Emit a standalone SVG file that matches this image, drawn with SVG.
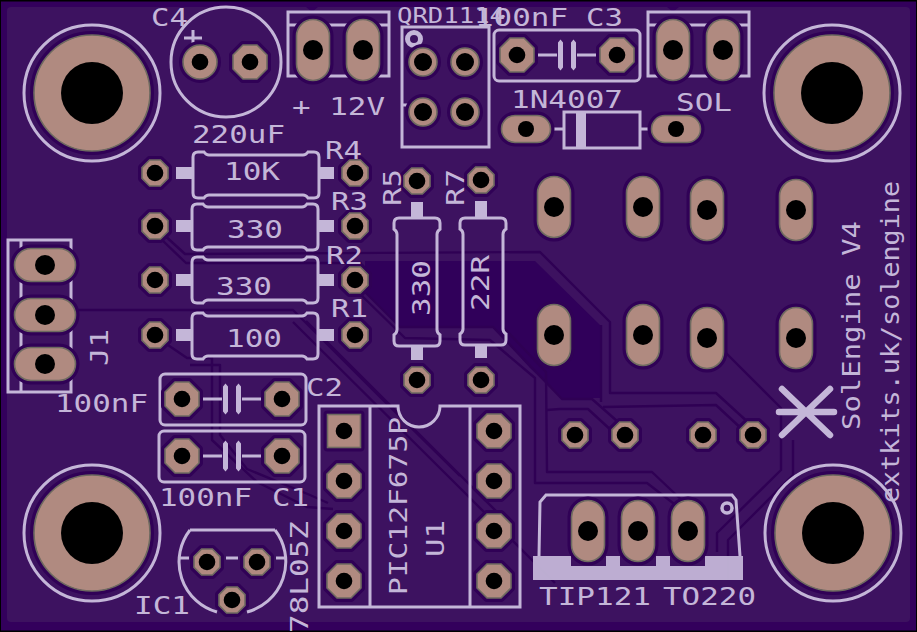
<svg xmlns="http://www.w3.org/2000/svg" xmlns:xlink="http://www.w3.org/1999/xlink" width="917" height="632" viewBox="0 0 917 632">
<style>
.s{fill:none;stroke:#c4b6d8;stroke-width:3}
.f{fill:#c4b6d8;stroke:none}
.tr{fill:none;stroke:#2f0054;stroke-width:2.4;stroke-linejoin:round}
.h{stroke:#300156;stroke-width:8;stroke-linejoin:round}
.p{fill:#b08a80;stroke:#6e6a60;stroke-width:1.6}
.o{fill:#000}
text{font-family:"DejaVu Sans Mono","Liberation Mono",monospace;font-size:25px;fill:#c4b6d8}
</style>
<defs>
<g id="oS"><polygon class="h" points="-5.4,-13 5.4,-13 13,-5.4 13,5.4 5.4,13 -5.4,13 -13,5.4 -13,-5.4"/><polygon class="p" points="-5.4,-13 5.4,-13 13,-5.4 13,5.4 5.4,13 -5.4,13 -13,5.4 -13,-5.4"/><circle class="o" r="8.3"/></g>
<g id="oL"><polygon class="h" points="-7,-17 7,-17 17,-7 17,7 7,17 -7,17 -17,7 -17,-7"/><polygon class="p" points="-7,-17 7,-17 17,-7 17,7 7,17 -7,17 -17,7 -17,-7"/><circle class="o" r="8.3"/></g>
<g id="rP"><circle class="h" r="14"/><circle class="p" r="14"/><circle class="o" r="9"/></g>
<g id="rC"><circle class="h" r="17"/><circle class="p" r="17"/><circle class="o" r="8.3"/></g>
<g id="oV"><rect class="h" x="-16.500" y="-30.500" width="33" height="61" rx="16.500"/><rect class="p" x="-16.500" y="-30.500" width="33" height="61" rx="16.500"/><circle class="o" r="10"/></g>
<g id="oH"><rect class="h" x="-30.500" y="-16.500" width="61" height="33" rx="16.500"/><rect class="p" x="-30.500" y="-16.500" width="61" height="33" rx="16.500"/><circle class="o" r="10"/></g>
<g id="oD"><rect class="h" x="-24.500" y="-13.500" width="49" height="27" rx="13.500"/><rect class="p" x="-24.500" y="-13.500" width="49" height="27" rx="13.500"/><circle class="o" r="8"/></g>
<g id="mt"><circle class="h" r="58"/><circle class="p" r="58"/><circle class="o" r="31"/><circle class="s" r="68"/></g>
<path id="res" class="s" d="M5 0H11Q13 3 16 3H110Q113 3 115 0H121Q126 0 126 5V41Q126 46 121 46H115Q113 43 110 43H16Q13 43 11 46H5Q0 46 0 41V5Q0 0 5 0Z"/>
<g id="cap"><path class="s" d="M-30 0H-10M10 0H31"/><path class="f" d="M-9 -12.500L-6.500 -15.500L-4 -12.500V12.500L-6.500 15.500L-9 12.500ZM4 -12.500L6.500 -15.500L9 -12.500V12.500L6.500 15.500L4 12.500Z"/></g>
</defs>

<g id="board">
<rect width="917" height="632" fill="#000"/>
<rect x="1" y="1.500" width="915" height="629" fill="#33005c"/>
<rect x="7" y="7" width="903" height="615" rx="4" fill="#3d1260"/>
<path d="M306 7L312 12L318 7ZM667 7L673 12L679 7Z" fill="#33005c"/>
<path d="M365 261H535L600 325V398H562L530 368L493 327H400L365 291Z" fill="#30005a"/>
</g>

<g id="connectors">
<polyline class="tr" points="162,233 185,254 540,252 610,322 610,393 716,393 762,435"/>
<polyline class="tr" points="160,238 186,263 362,263"/>
<polyline class="tr" points="601,325 601,402"/>
<polyline class="tr" points="603,407 716,405 745,432"/>
<polyline class="tr" points="723,350 781,408 781,470 717,533 717,552"/>
<polyline class="tr" points="793,440 793,475 728,540 728,580"/>
<polyline class="tr" points="360,287 400,327 493,327 562,399 592,399 617,421"/>
<polyline class="tr" points="358,292 405,338 490,340 535,378 535,483 647,483 682,510"/>
<polyline class="tr" points="503,327 546,372 547,472 652,472 688,506"/>
<polyline class="tr" points="547,410 560,409 588,409 613,432"/>
<polyline class="tr" points="60,310 293,310 380,397 460,476"/>
<polyline class="tr" points="293,322 460,488 555,583"/>
<polyline class="tr" points="306,321 470,485 500,515"/>
<polyline class="tr" points="165,343 187,358 212,358 212,440 257,482 307,507 333,509"/>
<polyline class="tr" points="190,365 220,365 220,435 247,469 310,495 328,503"/>
</g>

<g id="mount-holes">
<use href="#mt" x="92" y="93"/><use href="#mt" x="832" y="93"/><use href="#mt" x="92" y="533"/><use href="#mt" x="833" y="533"/>
</g>

<g id="C4">
<circle class="s" cx="226" cy="62" r="55"/><path class="s" d="M184 38H202M193 30V46"/>
<use href="#rC" x="200" y="62"/><use href="#oL" x="250" y="62"/>
<text x="151" y="26" textLength="37" lengthAdjust="spacingAndGlyphs">C4</text><text x="192" y="143" textLength="93" lengthAdjust="spacingAndGlyphs">220uF</text>
</g>

<g id="PWR">
<rect class="s" x="288" y="12" width="101" height="64"/><path class="s" d="M288 25H389"/>
<use href="#oV" x="313" y="50"/><use href="#oV" x="363" y="50"/>
<text x="292" y="115" textLength="93" lengthAdjust="spacingAndGlyphs">+ 12V</text>
</g>

<g id="SOLT">
<rect class="s" x="648" y="12" width="101" height="64"/><path class="s" d="M648 25H749"/>
<use href="#oV" x="673" y="50"/><use href="#oV" x="723" y="50"/>
<text x="676" y="111" textLength="56" lengthAdjust="spacingAndGlyphs">SOL</text>
</g>

<g id="QRD">
<rect class="s" x="402" y="27" width="87" height="120"/><circle class="s" cx="414" cy="39" r="6.500" style="stroke-width:5"/><path class="s" d="M402 105H411"/>
<use href="#rP" x="423" y="62"/><use href="#rP" x="465" y="62"/><use href="#rP" x="423" y="112"/><use href="#rP" x="465" y="112"/>
<text x="397" y="23" style="font-size:22px" textLength="108" lengthAdjust="spacingAndGlyphs">QRD1114</text>
</g>

<g id="C3">
<rect class="s" x="494" y="30" width="146" height="51" rx="5"/><use href="#cap" x="567" y="55"/>
<use href="#oL" x="517" y="55"/><use href="#oL" x="617" y="55"/>
<text x="475" y="26" textLength="93" lengthAdjust="spacingAndGlyphs">100nF</text><text x="586" y="26" textLength="37" lengthAdjust="spacingAndGlyphs">C3</text>
</g>

<g id="D1">
<rect class="s" x="564" y="112" width="76" height="36"/><rect class="f" x="576" y="112" width="10" height="36"/><path class="s" d="M550 129H564M640 129H654"/>
<use href="#oD" x="526" y="129"/><use href="#oD" x="676" y="129"/>
<text x="511" y="108" textLength="112" lengthAdjust="spacingAndGlyphs">1N4007</text>
</g>

<g id="R4">
<use href="#res" x="193" y="152"/><rect class="f" x="176" y="167" width="17" height="12"/><rect class="f" x="319" y="167" width="15" height="12"/>
<use href="#oS" x="155" y="173"/><use href="#oS" x="355" y="173"/>
<text x="224" y="180" textLength="56" lengthAdjust="spacingAndGlyphs">10K</text><text x="325" y="159" textLength="37" lengthAdjust="spacingAndGlyphs">R4</text>
</g>
<g id="R3">
<use href="#res" x="192" y="204"/><rect class="f" x="176" y="220" width="16" height="12"/><rect class="f" x="318" y="220" width="16" height="12"/>
<use href="#oS" x="155" y="226"/><use href="#oS" x="355" y="226"/>
<text x="227" y="238" textLength="56" lengthAdjust="spacingAndGlyphs">330</text><text x="331" y="210" textLength="37" lengthAdjust="spacingAndGlyphs">R3</text>
</g>
<g id="R2">
<use href="#res" x="192" y="257"/><rect class="f" x="176" y="274" width="16" height="12"/><rect class="f" x="318" y="274" width="16" height="12"/>
<use href="#oS" x="155" y="280"/><use href="#oS" x="355" y="280"/>
<text x="216" y="295" textLength="56" lengthAdjust="spacingAndGlyphs">330</text><text x="326" y="264" textLength="37" lengthAdjust="spacingAndGlyphs">R2</text>
</g>
<g id="R1">
<use href="#res" x="192" y="313"/><rect class="f" x="176" y="329" width="16" height="12"/><rect class="f" x="318" y="329" width="16" height="12"/>
<use href="#oS" x="155" y="335"/><use href="#oS" x="355" y="335"/>
<text x="226" y="347" textLength="56" lengthAdjust="spacingAndGlyphs">100</text><text x="331" y="317" textLength="37" lengthAdjust="spacingAndGlyphs">R1</text>
</g>

<g id="R5">
<use href="#res" transform="translate(440 218) rotate(90) scale(1.016 1)"/><rect class="f" x="411" y="202" width="12" height="16"/><rect class="f" x="411" y="346" width="12" height="14"/>
<use href="#oS" x="417" y="181"/><use href="#oS" x="417" y="380"/>
<text transform="translate(401 206) rotate(-90)" textLength="37" lengthAdjust="spacingAndGlyphs">R5</text>
<text transform="translate(430 316) rotate(-90)" textLength="56" lengthAdjust="spacingAndGlyphs">330</text>
</g>
<g id="R7">
<use href="#res" transform="translate(506 218) rotate(90) scale(1.008 1)"/><rect class="f" x="475" y="201" width="12" height="17"/><rect class="f" x="475" y="345" width="12" height="13"/>
<use href="#oS" x="481" y="180"/><use href="#oS" x="481" y="380"/>
<text transform="translate(464 206) rotate(-90)" textLength="37" lengthAdjust="spacingAndGlyphs">R7</text>
<text transform="translate(489 311) rotate(-90)" textLength="56" lengthAdjust="spacingAndGlyphs">22R</text>
</g>

<g id="J1">
<rect class="s" x="8" y="240" width="63" height="152"/><path class="s" d="M21 240V392"/>
<use href="#oH" x="45" y="265"/><use href="#oH" x="45" y="315"/><use href="#oH" x="45" y="364"/>
<text transform="translate(108 366) rotate(-90)" textLength="37" lengthAdjust="spacingAndGlyphs">J1</text>
</g>

<g id="C2">
<rect class="s" x="160" y="374" width="146" height="51" rx="5"/><use href="#cap" x="232" y="399"/>
<use href="#oL" x="182" y="399"/><use href="#oL" x="282" y="399"/>
<text x="55" y="412" textLength="93" lengthAdjust="spacingAndGlyphs">100nF</text><text x="306" y="396" textLength="37" lengthAdjust="spacingAndGlyphs">C2</text>
</g>
<g id="C1">
<rect class="s" x="159" y="431" width="146" height="51" rx="5"/><use href="#cap" x="232" y="456"/>
<use href="#oL" x="182" y="456"/><use href="#oL" x="282" y="456"/>
<text x="159" y="506" textLength="93" lengthAdjust="spacingAndGlyphs">100nF</text><text x="272" y="506" textLength="37" lengthAdjust="spacingAndGlyphs">C1</text>
</g>

<g id="IC1">
<path class="s" d="M190 530H275M190 530A52 52 0 0 0 217 612M275 530A52 52 0 0 1 247 612M179 558H189M226 558H238M276 558H286"/>
<use href="#oS" x="207" y="562"/><use href="#oS" x="257" y="562"/><use href="#oS" x="232" y="600"/>
<text x="134" y="614" textLength="56" lengthAdjust="spacingAndGlyphs">IC1</text>
<text transform="translate(308 633) rotate(-90)" textLength="112" lengthAdjust="spacingAndGlyphs">78L05Z</text>
</g>

<g id="U1">
<path class="s" d="M319 406H398A21 21 0 0 0 440 406H520V607H319ZM370 406V607M470 406V607"/>
<rect class="h" x="327.500" y="414.500" width="33" height="33" fill="none"/>
<rect class="p" x="327.500" y="414.500" width="33" height="33"/><circle class="o" cx="344" cy="431" r="8.300"/>
<use href="#oL" x="344" y="481"/><use href="#oL" x="344" y="531"/><use href="#oL" x="344" y="581"/>
<use href="#oL" x="494" y="431"/><use href="#oL" x="494" y="481"/><use href="#oL" x="494" y="531"/><use href="#oL" x="494" y="581"/>
<text transform="translate(407 595) rotate(-90)" textLength="178" lengthAdjust="spacingAndGlyphs">PIC12F675P</text>
<text transform="translate(444 557) rotate(-90)" textLength="37" lengthAdjust="spacingAndGlyphs">U1</text>
</g>

<g id="TR-pads">
<use href="#oV" x="554" y="207"/><use href="#oV" x="643" y="207"/><use href="#oV" x="707" y="210"/><use href="#oV" x="796" y="210"/>
<use href="#oV" x="554" y="335"/><use href="#oV" x="643" y="335"/><use href="#oV" x="707" y="338"/><use href="#oV" x="796" y="338"/>
<use href="#oS" x="575" y="435"/><use href="#oS" x="625" y="435"/><use href="#oS" x="703" y="435"/><use href="#oS" x="753" y="435"/>
</g>

<g id="T1">
<path class="s" d="M539 556L540 502L546 495H732L736 500L740 556"/>
<polygon class="f" opacity="0.95" points="533,556 571,556 571,566 606,566 606,556 620,556 620,566 656,566 656,556 670,556 670,566 705,566 705,556 743,556 743,580 533,580"/>
<circle class="s" cx="727" cy="508" r="5" style="stroke-width:3.500"/>
<use href="#oV" x="588" y="531"/><use href="#oV" x="638" y="531"/><use href="#oV" x="688" y="531"/>
<text x="539" y="605" textLength="112" lengthAdjust="spacingAndGlyphs">TIP121</text><text x="663" y="605" textLength="93" lengthAdjust="spacingAndGlyphs">TO220</text>
</g>

<g id="logo">
<path d="M779 412H834M782 389L830 435M782 435L830 389" fill="none" stroke="#c4b6d8" stroke-width="6.500" stroke-linecap="round"/>
<text transform="translate(860 430) rotate(-90)" textLength="209" lengthAdjust="spacingAndGlyphs">SolEngine V4</text>
<text transform="translate(899 503) rotate(-90)" textLength="322" lengthAdjust="spacingAndGlyphs">extkits.uk/solengine</text>
</g>
</svg>
